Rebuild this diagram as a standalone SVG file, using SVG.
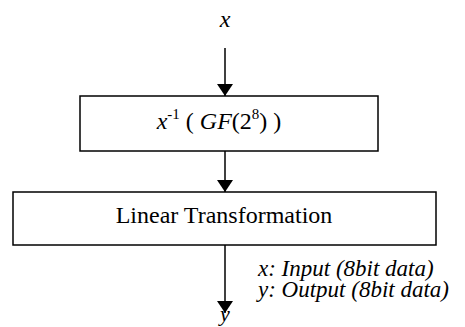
<svg xmlns="http://www.w3.org/2000/svg" width="465" height="327" viewBox="0 0 465 327">
<style>
text{font-family:"Liberation Serif","Times New Roman",serif;fill:#000}
.it{font-style:italic}
.box{fill:#fff;stroke:#000;stroke-width:1.5}
.con{stroke:#000;stroke-width:1.5;fill:none}
</style>
<defs>
<marker id="ah" markerUnits="userSpaceOnUse" markerWidth="12" markerHeight="16" refX="12" refY="8" orient="auto">
<path d="M0,0 L12,8 L0,16 Z" fill="#000"/>
</marker>
</defs>
<g id="connectors">
<line class="con" x1="225" y1="48" x2="225" y2="96" marker-end="url(#ah)"/>
<line class="con" x1="225" y1="151" x2="225" y2="192" marker-end="url(#ah)"/>
<line class="con" x1="225" y1="245" x2="225" y2="313" marker-end="url(#ah)"/>
</g>
<g id="label-x"><text class="it" x="225" y="27" font-size="24" text-anchor="middle">x</text></g>
<g id="node-inverse">
<rect class="box" x="80" y="96" width="298" height="55"/>
<text x="219" y="129" font-size="24" text-anchor="middle"><tspan class="it">x</tspan><tspan font-size="15" dy="-10">-1</tspan><tspan dy="10"> ( </tspan><tspan class="it">GF</tspan>(2<tspan font-size="15" dy="-10">8</tspan><tspan dy="10">) )</tspan></text>
</g>
<g id="node-linear">
<rect class="box" x="13" y="192" width="423" height="53"/>
<text x="224" y="223" font-size="24" text-anchor="middle">Linear Transformation</text>
</g>
<g id="label-y"><text class="it" x="225" y="321" font-size="22" text-anchor="middle">y</text></g>
<g id="legend">
<text class="it" x="258" y="276" font-size="23">x: Input (8bit data)</text>
<text class="it" x="258" y="297" font-size="23">y: Output (8bit data)</text>
</g>
</svg>
